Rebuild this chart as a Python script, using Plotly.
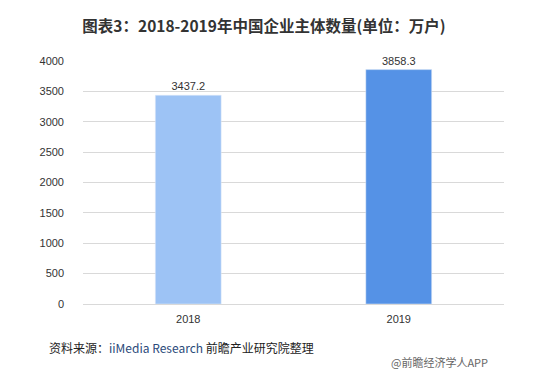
import plotly.graph_objects as go

years = ["2018", "2019"]
values = [3437.2, 3858.3]
colors = ["#9DC3F5", "#5592E6"]
title = "图表3：2018-2019年中国企业主体数量(单位：万户)"
source = "资料来源：<span style='color:#2B4A7A'>iiMedia Research</span> 前瞻产业研究院整理"
mark = "@前瞻经济学人APP"

font = "Microsoft YaHei, Noto Sans CJK SC, sans-serif"
W, H = 538, 370  # page has 8px body margin
L, T, R, B = 75, 53, 42, 74
pw, ph = W - L - R, H - T - B

fig = go.Figure(go.Bar(
    x=years, y=values, marker_color=colors,
    text=[f"{v:.1f}" for v in values], textposition="outside",
    textfont=dict(size=11, color="#333333", family="Liberation Sans, Arial"),
    cliponaxis=False,
))
fig.update_layout(
    width=W, height=H,
    margin=dict(l=L, r=R, t=T, b=B),
    paper_bgcolor="white", plot_bgcolor="white",
    bargap=0.687,
    showlegend=False,
    font=dict(family=font, color="#333333"),
    title=dict(text="<b>" + title + "</b>", xref="container", x=256 / W, xanchor="center",
               yref="container", y=1 - 19 / H, yanchor="middle",
               font=dict(size=15.5, color="#333333", family=font)),
    xaxis=dict(showline=True, linecolor="#D9D9D9", linewidth=1, ticks="outside",
               ticklen=5, tickcolor="rgba(0,0,0,0)",
               tickfont=dict(size=11, color="#333333", family="Liberation Sans, Arial")),
    yaxis=dict(range=[0, 4000], dtick=500, showgrid=True, gridcolor="#D9D9D9", gridwidth=1,
               zeroline=False, ticks="", ticklabelstandoff=18,
               tickfont=dict(size=11, color="#333333", family="Liberation Sans, Arial")),
    annotations=[
        dict(text=source, xref="paper", yref="paper", x=(39 - L) / pw, y=-(339 - 296) / ph,
             xanchor="left", yanchor="middle", showarrow=False,
             font=dict(size=12, color="#222222", family=font)),
        dict(text=mark, xref="paper", yref="paper", x=(482 - L) / pw, y=-(354 - 296) / ph,
             xanchor="right", yanchor="middle", showarrow=False,
             font=dict(size=11, color="#666666", family=font)),
    ],
)
fig.write_html("out.html")
